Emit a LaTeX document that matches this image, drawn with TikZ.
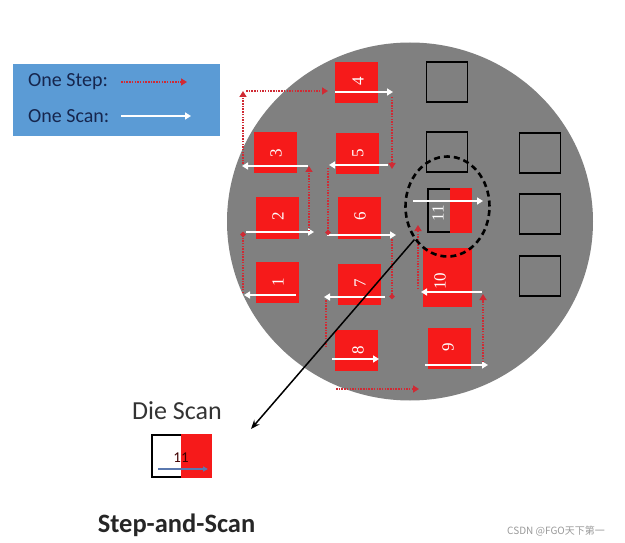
\documentclass[tikz,border=0pt]{standalone}
\usepackage{fontspec}
\setmainfont{Carlito}
\newfontfamily\serifdig{Liberation Serif}
\newfontfamily\cjkfont{Noto Sans CJK SC}
\usetikzlibrary{arrows.meta,shapes.geometric}
\definecolor{wafer}{RGB}{128,128,128}
\definecolor{diered}{RGB}{246,26,26}
\definecolor{stepred}{RGB}{208,42,52}
\definecolor{legblue}{RGB}{91,155,213}
\definecolor{legtext}{RGB}{22,38,78}
\definecolor{dsblue}{RGB}{90,120,175}
\begin{document}
\begin{tikzpicture}[x=1pt,y=-1pt,
 diebox/.style={fill=diered, draw=none, inner sep=0pt, minimum width=43pt, minimum height=41pt},
 emptybox/.style={draw=black, line width=1.6pt, inner sep=0pt, minimum width=41pt, minimum height=40pt},
 dnum/.style={text=white, font=\serifdig\fontsize{17}{17}\selectfont, rotate=90, inner sep=0pt},
 scanarrow/.style={draw=white, line width=2pt, -{Triangle[length=6pt,width=7pt]}},
 steparrow/.style={draw=stepred, line width=1.9pt, dash pattern=on 1.5pt off 1.2pt, -{Triangle[length=6pt,width=7pt]}},
 stepdot/.style={draw=stepred, line width=1.9pt, dash pattern=on 1.5pt off 1.2pt, -{Circle[length=5pt]}},
 stepplain/.style={draw=stepred, line width=1.9pt, dash pattern=on 1.5pt off 1.2pt},
 legtxt/.style={text=legtext, font=\fontsize{20}{20}\selectfont, anchor=west, inner sep=0pt}
]
\useasboundingbox (0,0) rectangle (625,543);
% legend
\node[fill=legblue, draw=none, inner sep=0pt, minimum width=207pt, minimum height=72pt, anchor=north west] (legend) at (13,64) {};
\node[legtxt] (lstep) at (28,82) {One Step:};
\node[legtxt] (lscan) at (28,116) {One Scan:};
\coordinate (ls1) at (121,82); \coordinate (ls2) at (187,82);
\coordinate (lc1) at (121,116); \coordinate (lc2) at (191,116);
\draw[steparrow] (ls1) -- (ls2);
\draw[scanarrow] (lc1) -- (lc2);
% wafer
\fill[wafer] (410,221.5) ellipse [x radius=183, y radius=179];
% empty dies
\node[emptybox] (e1) at (447,82) {};
\node[emptybox] (e2) at (447,152) {};
\node[emptybox] (e3) at (540,153) {};
\node[emptybox] (e4) at (540,214) {};
\node[emptybox] (e5) at (540,276) {};
% exposed dies
\node[diebox] (d4) at (356.5,82.5) {};
\node[diebox] (d3) at (275,152.5) {};
\node[diebox] (d5) at (357.5,153.5) {};
\node[diebox] (d2) at (277.5,218) {};
\node[diebox] (d6) at (359,218) {};
\node[diebox] (d1) at (277.5,282.5) {};
\node[diebox] (d7) at (359,284) {};
\node[diebox] (d8) at (356.5,350) {};
\node[diebox] (d9) at (449,348.5) {};
\node[diebox, minimum width=49pt, minimum height=59pt] (d10) at (447.5,277.5) {};
% die 11 (partially scanned)
\node[draw=black, line width=1.6pt, inner sep=0pt, minimum width=43pt, minimum height=43pt] (d11) at (449,210) {};
\fill[diered] (450,188) rectangle (471.5,232.5);
\draw[black, line width=1.6pt] (450,188.8) -- (428,188.8) -- (428,231.7) -- (450,231.7);
% numbers
\node[dnum] (n4) at (358,81) {4};
\node[dnum] (n3) at (276,153) {3};
\node[dnum] (n5) at (358,153) {5};
\node[dnum] (n2) at (278,216) {2};
\node[dnum] (n6) at (360,216) {6};
\node[dnum] (n1) at (278,282) {1};
\node[dnum] (n7) at (360,283) {7};
\node[dnum] (n8) at (358,350) {8};
\node[dnum] (n9) at (448,347) {9};
\node[dnum] (n10) at (440,281) {10};
\node[dnum] (n11) at (438,213) {11};
% scan arrows
\coordinate (s1a) at (296,295); \coordinate (s1b) at (244,295);
\coordinate (s2a) at (246,232); \coordinate (s2b) at (314,232);
\coordinate (s3a) at (308,166); \coordinate (s3b) at (242,166);
\coordinate (s4a) at (335,92);  \coordinate (s4b) at (393,92);
\coordinate (s5a) at (388,165); \coordinate (s5b) at (329,165);
\coordinate (s6a) at (327,235); \coordinate (s6b) at (396,235);
\coordinate (s7a) at (385,297); \coordinate (s7b) at (324,297);
\coordinate (s8a) at (332,359); \coordinate (s8b) at (379,359);
\coordinate (s9a) at (425,365); \coordinate (s9b) at (488,365);
\coordinate (s10a) at (482,292); \coordinate (s10b) at (421,292);
\coordinate (s11a) at (413,201); \coordinate (s11b) at (483,201);
\foreach \i in {1,...,11} {\draw[scanarrow] (s\i a) -- (s\i b);}
% step arrows
\coordinate (t12a) at (243,293); \coordinate (t12b) at (243,232);
\coordinate (t23a) at (309,231); \coordinate (t23b) at (309,166);
\coordinate (t34a) at (243,164); \coordinate (t34c) at (243,91); \coordinate (t34d) at (246,91); \coordinate (t34b) at (328,91);
\coordinate (t45a) at (392,97); \coordinate (t45b) at (392,169);
\coordinate (t56a) at (328,168); \coordinate (t56b) at (328,235);
\coordinate (t67a) at (392,239); \coordinate (t67b) at (392,299);
\coordinate (t78a) at (326,300); \coordinate (t78b) at (326,346);
\coordinate (t89a) at (336,389); \coordinate (t89b) at (419,389);
\coordinate (t910a) at (483,362); \coordinate (t910b) at (483,294);
\coordinate (t1011a) at (418,289); \coordinate (t1011b) at (418,225);
\draw[stepdot] (t12a) -- (t12b);
\draw[steparrow] (t23a) -- (t23b);
\draw[steparrow] (t34a) -- (t34c);
\draw[steparrow] (t34d) -- (t34b);
\draw[steparrow] (t45a) -- (t45b);
\draw[stepdot] (t56a) -- (t56b);
\draw[stepdot] (t67a) -- (t67b);
\draw[stepplain] (t78a) -- (t78b);
\draw[steparrow] (t89a) -- (t89b);
\draw[steparrow] (t910a) -- (t910b);
\draw[steparrow] (t1011a) -- (t1011b);
% zoom circle and pointer
\node[draw=black, line width=2.6pt, dash pattern=on 6pt off 4pt, ellipse, minimum width=84pt, minimum height=100pt, inner sep=0pt] (zc) at (447.5,206.5) {};
\coordinate (ptip) at (251,429);
\draw[black, line width=1.5pt, -{Stealth[length=9pt,width=7pt]}] (zc.-135) -- (ptip);
% die scan detail
\node[font=\fontsize{26}{26}\selectfont, text=black!80, inner sep=0pt] (diescan) at (177,411) {Die Scan};
\fill[white] (151,434) rectangle (181,478);
\fill[diered] (181,434) rectangle (212,478);
\draw[black, line width=1.6pt] (181,434.8) -- (151.8,434.8) -- (151.8,477.2) -- (181,477.2);
\node[font=\fontsize{15}{15}\selectfont, text=black!75!red, inner sep=0pt] (ds11) at (181,458) {11};
\coordinate (dsa) at (158,469); \coordinate (dsb) at (208,469);
\draw[dsblue, line width=1.6pt, -{Triangle[length=5pt,width=5pt]}] (dsa) -- (dsb);
% title
\node[font=\bfseries\fontsize{26.5}{26.5}\selectfont, text=black!85, inner sep=0pt, anchor=base] (title) at (176.5,532) {Step-and-Scan};
% watermark
\node[font=\cjkfont\fontsize{10}{10}\selectfont, text=black!40, inner sep=0pt, anchor=west] (wm) at (507,531) {CSDN @FGO天下第一};
\end{tikzpicture}
\end{document}
